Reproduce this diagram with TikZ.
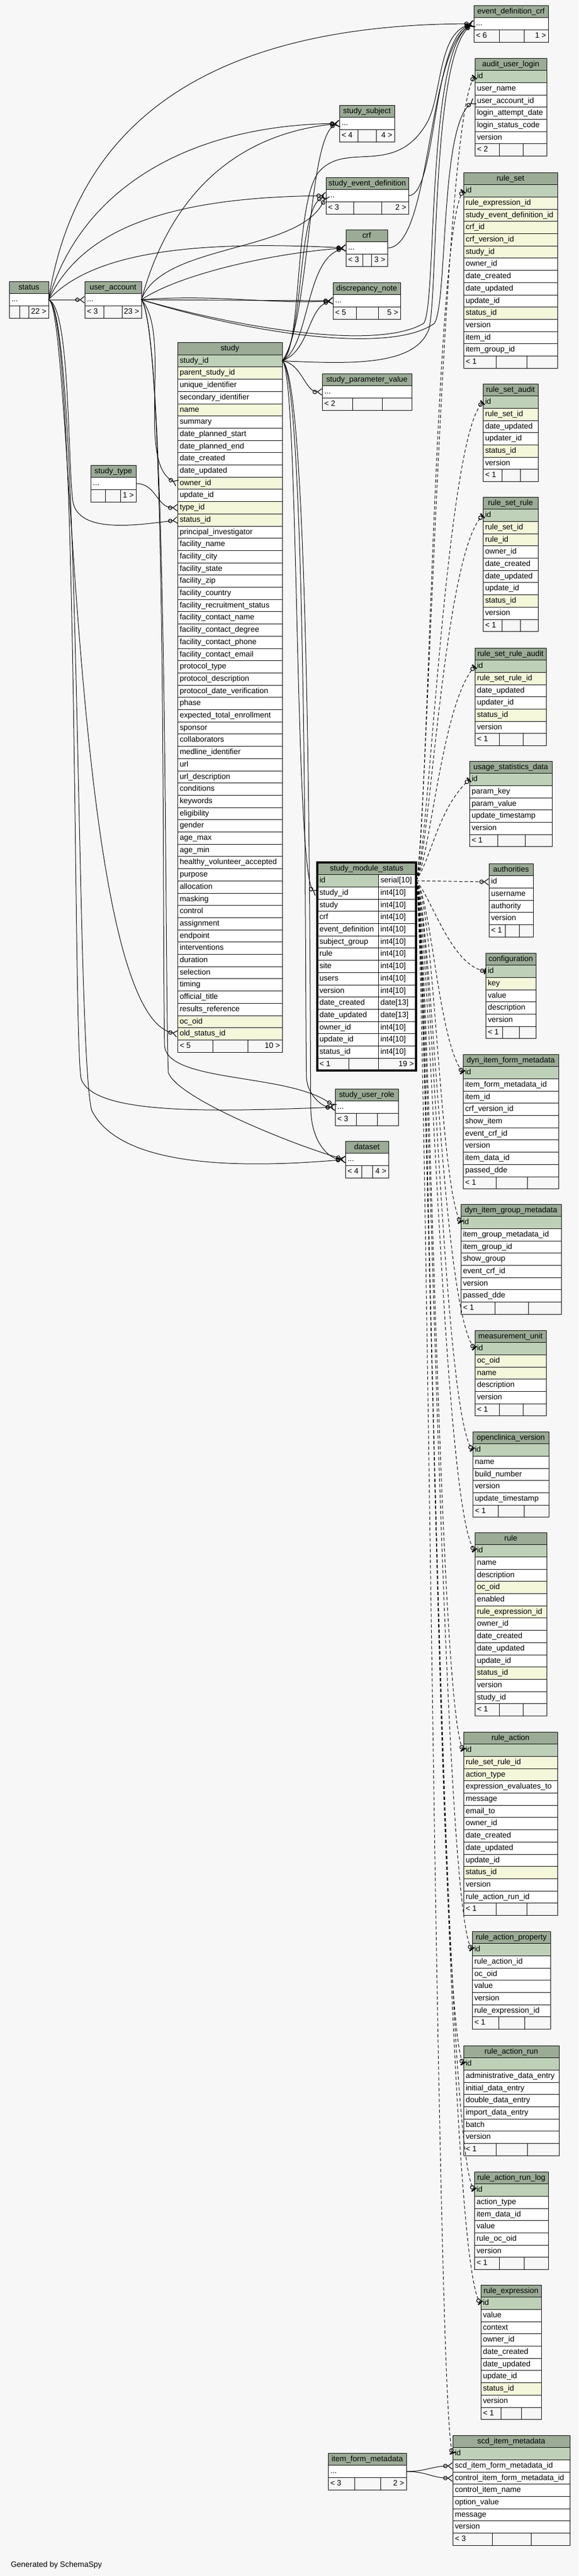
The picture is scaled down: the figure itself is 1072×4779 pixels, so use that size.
\documentclass[tikz,border=0pt]{standalone}
\usepackage{fontspec}
\setmainfont{Liberation Sans}
\usetikzlibrary{positioning,arrows.meta}
\definecolor{bgc}{HTML}{F7F7F7}
\definecolor{hdgreen}{HTML}{9BAB96}
\definecolor{pkgreen}{HTML}{BED1B8}
\definecolor{ixyellow}{HTML}{F4F7DA}
\newcommand{\tabfont}{\fontsize{14.4pt}{16pt}\selectfont}

\newcommand{\erdbox}[5]{%
  \node[hdcell, minimum width=#4] (#1-hd) at (#2,#3) {#5};
  \pgfmathsetmacro{\tw}{#4-8}
  \node[nc, minimum width=#4, below=0pt of #1-hd] (#1-dots) {\makebox[\tw pt][l]{...}};
  \xdef\lastrow{dots}}

\newcommand{\erdtable}[6]{%
  \node[hdcell, minimum width=#4] (#1-hd) at (#2,#3) {#5};
  \pgfmathsetmacro{\tw}{#4-8}
  \xdef\lastrow{hd}
  \foreach \c/\k in {#6} {
    \node[\k, minimum width=#4, below=0pt of #1-\lastrow] (#1-\c) {\makebox[\tw pt][l]{\c}};
    \xdef\lastrow{\c}
  }}

\newcommand{\erdfoot}[6]{%
  \pgfmathsetmacro{\tw}{#2-8}
  \pgfmathsetmacro{\dtwo}{#3+#4}
  \node[ftcell, minimum width=#2, anchor=north west] (#1-ft) at (#1-\lastrow.south west) {\makebox[\tw pt][l]{#5}};
  \node[fttext, anchor=east] (#1-fr) at (#1-ft.east) {#6};
  \draw[line width=1pt] ([xshift=#3]#1-ft.north west) -- ([xshift=#3]#1-ft.south west)
    ([xshift=\dtwo]#1-ft.north west) -- ([xshift=\dtwo]#1-ft.south west);}

\begin{document}
\catcode`\_=12
\begin{tikzpicture}[x=1pt,y=-1pt,
  cell/.style={draw, line width=1pt, minimum height=22.7pt, inner xsep=4pt, inner ysep=0pt, outer sep=0pt, text height=10.5pt, text depth=3.2pt, font=\tabfont},
  hdcell/.style={cell, fill=hdgreen, anchor=north west, align=center},
  nc/.style={cell, fill=white},
  pk/.style={nc, fill=pkgreen},
  ix/.style={nc, fill=ixyellow},
  ftcell/.style={cell, fill=bgc},
  fttext/.style={inner xsep=4pt, inner ysep=0pt, outer sep=0pt, text height=10.5pt, text depth=3.2pt, font=\tabfont},
  fk/.style={draw, line width=1pt, -{Circle[open,length=8pt,width=8pt,line width=1.2pt] Straight Barb[reversed,length=8pt,width=12pt,line width=1.2pt]}},
  imp/.style={draw, line width=1pt, dash pattern=on 6pt off 4pt, -{Circle[open,length=8pt,width=8pt,line width=1.2pt] Bar[width=11pt,line width=2.5pt]}},
  impm/.style={draw, line width=1pt, dash pattern=on 6pt off 4pt, -{Circle[open,length=8pt,width=8pt,line width=1.2pt] Straight Barb[reversed,length=8pt,width=12pt,line width=1.2pt]}}]
\useasboundingbox (0,0) rectangle (1072,4779);
\fill[bgc] (0,0) rectangle (1072,4779);

\erdbox{edc}{878}{10}{138}{event_definition_crf}
\erdfoot{edc}{138}{47}{46}{< 6}{1 >}
\erdtable{aul}{880}{108}{133}{audit_user_login}{id/pk, user_name/nc, user_account_id/nc, login_attempt_date/nc, login_status_code/nc, version/nc}
\erdfoot{aul}{133}{45}{44}{< 2}{}
\erdbox{ssub}{629}{195}{102}{study_subject}
\erdfoot{ssub}{102}{34}{34}{< 4}{4 >}
\erdtable{rs}{859}{320}{174}{rule_set}{id/pk, rule_expression_id/ix, study_event_definition_id/ix, crf_id/ix, crf_version_id/ix, study_id/ix, owner_id/nc, date_created/nc, date_updated/nc, update_id/nc, status_id/ix, version/nc, item_id/nc, item_group_id/nc}
\erdfoot{rs}{174}{60}{57}{< 1}{}
\erdbox{sed}{604}{329}{153}{study_event_definition}
\erdfoot{sed}{153}{51}{52}{< 3}{2 >}
\erdbox{crf}{641}{426}{77}{crf}
\erdfoot{crf}{77}{31}{16}{< 3}{3 >}
\erdbox{dn}{617}{524}{125}{discrepancy_note}
\erdfoot{dn}{125}{43}{41}{< 5}{5 >}
\erdbox{st}{17}{522}{73}{status}
\erdfoot{st}{73}{19}{17}{}{22 >}
\erdbox{ua}{157}{522}{105}{user_account}
\erdfoot{ua}{105}{35}{34}{< 3}{23 >}
\erdtable{sy}{329}{635.5}{194}{study}{study_id/pk, parent_study_id/ix, unique_identifier/nc, secondary_identifier/nc, name/ix, summary/nc, date_planned_start/nc, date_planned_end/nc, date_created/nc, date_updated/nc, owner_id/ix, update_id/nc, type_id/ix, status_id/ix, principal_investigator/nc, facility_name/nc, facility_city/nc, facility_state/nc, facility_zip/nc, facility_country/nc, facility_recruitment_status/nc, facility_contact_name/nc, facility_contact_degree/nc, facility_contact_phone/nc, facility_contact_email/nc, protocol_type/nc, protocol_description/nc, protocol_date_verification/nc, phase/nc, expected_total_enrollment/nc, sponsor/nc, collaborators/nc, medline_identifier/nc, url/nc, url_description/nc, conditions/nc, keywords/nc, eligibility/nc, gender/nc, age_max/nc, age_min/nc, healthy_volunteer_accepted/nc, purpose/nc, allocation/nc, masking/nc, control/nc, assignment/nc, endpoint/nc, interventions/nc, duration/nc, selection/nc, timing/nc, official_title/nc, results_reference/nc, oc_oid/ix, old_status_id/ix}
\erdfoot{sy}{194}{65}{65}{< 5}{10 >}
\erdbox{spv}{597}{693}{166}{study_parameter_value}
\erdfoot{spv}{166}{56}{55}{< 2}{}
\erdbox{stype}{168}{863}{84}{study_type}
\erdfoot{stype}{84}{27}{28}{}{1 >}
\erdtable{rsa}{895}{712}{102}{rule_set_audit}{id/pk, rule_set_id/ix, date_updated/nc, updater_id/nc, status_id/ix, version/nc}
\erdfoot{rsa}{102}{35}{34}{< 1}{}
\erdtable{rsr}{895}{922}{102}{rule_set_rule}{id/pk, rule_set_id/ix, rule_id/ix, owner_id/nc, date_created/nc, date_updated/nc, update_id/nc, status_id/ix, version/nc}
\erdfoot{rsr}{102}{35}{34}{< 1}{}
\erdtable{rsra}{880}{1202}{132}{rule_set_rule_audit}{id/pk, rule_set_rule_id/ix, date_updated/nc, updater_id/nc, status_id/ix, version/nc}
\erdfoot{rsra}{132}{45}{44}{< 1}{}
\erdtable{usd}{870}{1412}{153}{usage_statistics_data}{id/pk, param_key/nc, param_value/nc, update_timestamp/nc, version/nc}
\erdfoot{usd}{153}{52}{51}{< 1}{}

\node[hdcell, minimum width=183] (sms-hd) at (588,1600) {study_module_status};
\xdef\lastrow{hd}
\foreach \c/\ty/\k in {id/serial[10]/pk, study_id/int4[10]/nc, study/int4[10]/nc, crf/int4[10]/nc, event_definition/int4[10]/nc, subject_group/int4[10]/nc, rule/int4[10]/nc, site/int4[10]/nc, users/int4[10]/nc, version/int4[10]/nc, date_created/date[13]/nc, date_updated/date[13]/nc, owner_id/int4[10]/nc, update_id/int4[10]/nc, status_id/int4[10]/nc} {
  \node[\k, minimum width=113, anchor=north west] (sms-\c) at (sms-\lastrow.south west) {\makebox[105pt][l]{\c}};
  \node[nc, minimum width=70, anchor=north west] (sms-\c-t) at (sms-\c.north east) {\makebox[62pt][l]{\ty}};
  \xdef\lastrow{\c}
}
\erdfoot{sms}{183}{58}{55}{< 1}{19 >}
\draw[line width=3.5pt] (sms-hd.north west) rectangle (sms-ft.south east);

\erdtable{auth}{906}{1602}{82}{authorities}{id/nc, username/nc, authority/nc, version/nc}
\erdfoot{auth}{82}{30}{26}{< 1}{}
\erdtable{conf}{900}{1768}{93}{configuration}{id/pk, key/ix, value/nc, description/nc, version/nc}
\erdfoot{conf}{93}{31}{31}{< 1}{}
\erdtable{difm}{858}{1956}{177}{dyn_item_form_metadata}{id/pk, item_form_metadata_id/nc, item_id/nc, crf_version_id/nc, show_item/nc, event_crf_id/nc, version/nc, item_data_id/nc, passed_dde/nc}
\erdfoot{difm}{177}{61}{58}{< 1}{}
\erdbox{sur}{621}{2020}{117}{study_user_role}
\erdfoot{sur}{117}{39}{39}{< 3}{}
\erdbox{ds}{640}{2117}{80}{dataset}
\erdfoot{ds}{80}{30}{20}{< 4}{4 >}
\erdtable{digm}{854}{2234}{186}{dyn_item_group_metadata}{id/pk, item_group_metadata_id/nc, item_group_id/nc, show_group/nc, event_crf_id/nc, version/nc, passed_dde/nc}
\erdfoot{digm}{186}{63}{62}{< 1}{}
\erdtable{mu}{880}{2468}{132}{measurement_unit}{id/pk, oc_oid/ix, name/ix, description/nc, version/nc}
\erdfoot{mu}{132}{45}{44}{< 1}{}
\erdtable{ocv}{876}{2656}{141}{openclinica_version}{id/pk, name/nc, build_number/nc, version/nc, update_timestamp/nc}
\erdfoot{ocv}{141}{47}{48}{< 1}{}
\erdtable{ru}{880}{2843}{133}{rule}{id/pk, name/nc, description/nc, oc_oid/ix, enabled/nc, rule_expression_id/ix, owner_id/nc, date_created/nc, date_updated/nc, update_id/nc, status_id/ix, version/nc, study_id/nc}
\erdfoot{ru}{133}{45}{44}{< 1}{}
\erdtable{ra}{859}{3213}{174}{rule_action}{id/pk, rule_set_rule_id/ix, action_type/ix, expression_evaluates_to/nc, message/nc, email_to/nc, owner_id/nc, date_created/nc, date_updated/nc, update_id/nc, status_id/ix, version/nc, rule_action_run_id/nc}
\erdfoot{ra}{174}{60}{57}{< 1}{}
\erdtable{rap}{875}{3583}{145}{rule_action_property}{id/pk, rule_action_id/nc, oc_oid/nc, value/nc, version/nc, rule_expression_id/nc}
\erdfoot{rap}{145}{49}{48}{< 1}{}
\erdtable{rar}{859}{3795}{177}{rule_action_run}{id/pk, administrative_data_entry/nc, initial_data_entry/nc, double_data_entry/nc, import_data_entry/nc, batch/nc, version/nc}
\erdfoot{rar}{177}{60}{58}{< 1}{}
\erdtable{rarl}{879}{4029}{137}{rule_action_run_log}{id/pk, action_type/nc, item_data_id/nc, value/nc, rule_oc_oid/nc, version/nc}
\erdfoot{rarl}{137}{46}{46}{< 1}{}
\erdtable{rex}{891}{4239}{112}{rule_expression}{id/pk, value/nc, context/nc, owner_id/nc, date_created/nc, date_updated/nc, update_id/nc, status_id/ix, version/nc}
\erdfoot{rex}{112}{37}{38}{< 1}{}
\erdtable{scd}{839}{4518}{217}{scd_item_metadata}{id/pk, scd_item_form_metadata_id/nc, control_item_form_metadata_id/nc, control_item_name/nc, option_value/nc, message/nc, version/nc}
\erdfoot{scd}{217}{73}{72}{< 3}{}
\erdbox{ifm}{608}{4551}{145}{item_form_metadata}
\erdfoot{ifm}{145}{49}{48}{< 3}{2 >}

\node[fttext, anchor=west] (gen) at (16,4759) {Generated by SchemaSpy};

\draw[fk] (st-dots.east) -- (ua-dots.west);
\draw[fk] (st-dots.east) .. controls (130,300) and (300,45) .. (edc-dots.west);
\draw[fk] (st-dots.east) .. controls (150,350) and (350,232) .. (ssub-dots.west);
\draw[fk] (st-dots.east) .. controls (150,430) and (300,366) .. (sed-dots.west);
\draw[fk] (st-dots.east) .. controls (170,470) and (350,445) .. (crf-dots.west);
\draw[fk] (st-dots.east) .. controls (130,570) and (125,850) .. (135,930) .. controls (145,990) and (250,975) .. (sy-status_id.west);
\draw[fk] (st-dots.east) .. controls (135,565) and (130,1880) .. (sy-old_status_id.west);
\draw[fk] (st-dots.east) .. controls (145,570) and (135,1900) .. (150,2000) .. controls (170,2070) and (400,2062) .. (sur-dots.west);
\draw[fk] (st-dots.east) .. controls (150,570) and (140,1950) .. (170,2060) .. controls (220,2160) and (420,2170) .. (ds-dots.west);

\draw[fk] (ua-dots.east) .. controls (310,380) and (420,250) .. (ssub-dots.west);
\draw[fk] (ua-dots.east) .. controls (300,450) and (560,470) .. (sed-dots.west);
\draw[fk] (ua-dots.east) .. controls (330,510) and (500,470) .. (crf-dots.west);
\draw[fk] (ua-dots.east) -- (dn-dots.west);
\draw[fk] (ua-dots.east) .. controls (400,545) and (500,565) .. (dn-dots.west);
\draw[fk] (ua-dots.east) .. controls (450,610) and (700,650) .. (785,600) .. controls (810,570) and (790,90) .. (edc-dots.west);
\draw[fk] (ua-dots.east) .. controls (450,615) and (720,660) .. (805,600) .. controls (830,560) and (815,230) .. (aul-user_account_id.west);
\draw[fk] (ua-dots.east) .. controls (320,620) and (250,860) .. (sy-owner_id.west);
\draw[fk] (ua-dots.east) .. controls (310,620) and (300,1700) .. (305,1940) .. controls (310,2010) and (540,1990) .. (sur-dots.west);
\draw[fk] (ua-dots.east) .. controls (312,620) and (305,1850) .. (312,1990) .. controls (330,2040) and (560,2130) .. (ds-dots.west);

\draw[fk] (sy-study_id.east) .. controls (560,650) and (545,380) .. (590,320) .. controls (640,260) and (730,330) .. (790,230) .. controls (820,180) and (810,60) .. (edc-dots.west);
\draw[fk] (sy-study_id.east) .. controls (650,675) and (770,680) .. (795,610) .. controls (812,540) and (800,100) .. (edc-dots.west);
\draw[fk] (sy-study_id.east) .. controls (575,600) and (570,250) .. (ssub-dots.west);
\draw[fk] (sy-study_id.east) .. controls (565,620) and (550,390) .. (sed-dots.west);
\draw[fk] (sy-study_id.east) .. controls (575,640) and (565,480) .. (crf-dots.west);
\draw[fk] (sy-study_id.east) .. controls (575,650) and (570,570) .. (dn-dots.west);
\draw[fk] (sy-study_id.east) .. controls (560,675) and (565,727) .. (spv-dots.west);
\draw[fk] (sy-study_id.east) .. controls (555,690) and (545,1630) .. (sms-study_id.west);
\draw[fk] (sy-study_id.east) .. controls (570,700) and (565,1900) .. (568,2000) .. controls (570,2030) and (595,2054) .. (sur-dots.west);
\draw[fk] (sy-study_id.east) .. controls (578,700) and (574,1950) .. (576,2060) .. controls (578,2120) and (610,2151) .. (ds-dots.west);

\draw[fk] (stype-dots.east) .. controls (290,897) and (290,942) .. (sy-type_id.west);
\draw[fk] (sed-dots.east) .. controls (810,363) and (800,70) .. (edc-dots.west);
\draw[fk] (crf-dots.east) .. controls (800,460) and (790,90) .. (edc-dots.west);
\draw[fk] (ifm-dots.east) .. controls (790,4585) and (800,4575) .. (scd-scd_item_form_metadata_id.west);
\draw[fk] (ifm-dots.east) .. controls (790,4585) and (800,4597) .. (scd-control_item_form_metadata_id.west);

\draw[imp] (sms-id-t.east) .. controls (790,1600) and (820,212) .. (aul-id.west);
\draw[imp] (sms-id-t.east) .. controls (792,1598) and (805,424) .. (rs-id.west);
\draw[imp] (sms-id-t.east) .. controls (794,1596) and (825,816) .. (rsa-id.west);
\draw[imp] (sms-id-t.east) .. controls (796,1594) and (822,1026) .. (rsr-id.west);
\draw[imp] (sms-id-t.east) .. controls (798,1592) and (818,1306) .. (rsra-id.west);
\draw[imp] (sms-id-t.east) .. controls (800,1590) and (812,1500) .. (usd-id.west);
\draw[impm] (sms-id-t.east) -- (auth-id.west);
\draw[imp] (sms-id-t.east) .. controls (800,1665) and (835,1790) .. (conf-id.west);
\draw[imp] (sms-id-t.east) .. controls (800,1670) and (812,1930) .. (difm-id.west);
\draw[imp] (sms-id-t.east) .. controls (805,1675) and (815,2200) .. (digm-id.west);
\draw[imp] (sms-id-t.east) .. controls (800,1680) and (818,2430) .. (mu-id.west);
\draw[imp] (sms-id-t.east) .. controls (800,1680) and (820,2620) .. (ocv-id.west);
\draw[imp] (sms-id-t.east) .. controls (796,1680) and (820,2800) .. (ru-id.west);
\draw[imp] (sms-id-t.east) .. controls (796,1685) and (812,3170) .. (ra-id.west);
\draw[imp] (sms-id-t.east) .. controls (794,1685) and (818,3540) .. (rap-id.west);
\draw[imp] (sms-id-t.east) .. controls (794,1690) and (810,3750) .. (rar-id.west);
\draw[imp] (sms-id-t.east) .. controls (792,1690) and (815,3980) .. (rarl-id.west);
\draw[imp] (sms-id-t.east) .. controls (792,1695) and (818,4190) .. (rex-id.west);
\draw[imp] (sms-id-t.east) .. controls (790,1700) and (808,4470) .. (scd-id.west);
\end{tikzpicture}
\end{document}
